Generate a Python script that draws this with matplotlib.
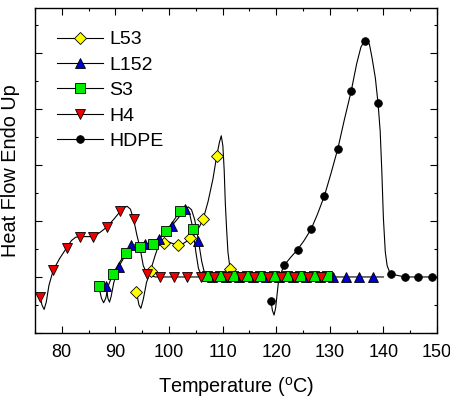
import matplotlib
matplotlib.use("Agg")
import matplotlib.pyplot as plt
from matplotlib.ticker import MultipleLocator, NullFormatter

plt.rcParams['font.family'] = ['Liberation Sans', 'DejaVu Sans']

# ---- L53 (yellow diamonds) ----
l53_x = [93.9, 94.4, 94.75, 95.2, 95.8, 96.55, 97.3, 98.0, 98.9, 99.8, 100.6, 101.5, 102.4,
         103.2, 104.0, 104.8, 105.7, 106.4, 107.3, 108.2, 108.9, 109.4, 109.75, 110.05, 110.3,
         110.5, 110.75, 111.0, 111.4, 112.2, 113.0, 130.0]
l53_y = [-0.26, -0.50, -0.56, -0.40, -0.10, 0.11, 0.35, 0.55, 0.61, 0.63, 0.60, 0.57, 0.58,
         0.63, 0.70, 0.78, 0.90, 1.04, 1.35, 1.75, 2.16, 2.40, 2.52, 2.34, 1.90,
         1.33, 0.85, 0.44, 0.14, 0.03, 0.0, 0.0]
l53_mx = [93.9, 96.55, 99.0, 101.6, 104.0, 106.4, 108.9, 111.4]
l53_my = [-0.26, 0.11, 0.61, 0.57, 0.70, 1.04, 2.16, 0.14]

# ---- L152 (blue triangles) ----
l152_x = [88.3, 88.6, 88.9, 89.2, 89.7, 90.6, 91.8, 92.9, 94.2, 95.6, 96.8, 98.05, 99.3,
          100.5, 101.8, 103.0, 103.6, 104.2, 104.8, 105.5, 106.1, 106.6, 107.2, 108.0, 140.0]
l152_y = [-0.17, -0.38, -0.45, -0.35, -0.10, 0.18, 0.38, 0.565, 0.58, 0.58, 0.62, 0.685, 0.79,
          0.91, 1.06, 1.21, 1.25, 1.20, 1.02, 0.64, 0.28, 0.08, 0.01, 0.0, 0.0]
l152_mx = [88.3, 90.6, 92.9, 95.6, 98.05, 100.5, 103.0, 105.5, 108.1, 110.6, 113.1, 115.6,
           118.1, 120.6, 123.1, 125.6, 128.1, 130.6, 133.0, 135.5, 138.0]
l152_my = [-0.17, 0.18, 0.565, 0.58, 0.685, 0.91, 1.21, 0.64, 0, 0, 0, 0,
           0, 0, 0, 0, 0, 0, 0, 0, 0]

# ---- S3 (green squares) ----
s3_x = [86.9, 87.4, 87.8, 88.2, 88.7, 89.5, 90.7, 91.95, 93.2, 94.5, 95.7, 97.0, 98.2, 99.5,
        100.7, 102.0, 102.7, 103.3, 103.8, 104.5, 105.0, 105.5, 106.0, 107.0, 130.0]
s3_y = [-0.17, -0.38, -0.46, -0.38, -0.15, 0.05, 0.25, 0.42, 0.52, 0.54, 0.55, 0.58, 0.68, 0.82,
        0.98, 1.17, 1.24, 1.25, 1.15, 0.85, 0.45, 0.15, 0.04, 0.02, 0.02]
s3_mx = [86.9, 89.46, 91.95, 94.5, 97.0, 99.5, 102.0, 104.5, 107.0, 109.5, 112.0, 114.5,
         117.0, 119.5, 122.0, 124.5, 127.0, 129.5]
s3_my = [-0.17, 0.05, 0.42, 0.54, 0.58, 0.82, 1.17, 0.85, 0.02, 0.02, 0.02, 0.02,
         0.02, 0.02, 0.02, 0.02, 0.02, 0.02]

# ---- H4 (red down triangles) ----
h4_x = [76.0, 76.3, 76.7, 77.1, 77.6, 78.4, 79.6, 80.9, 81.8, 82.6, 83.4, 85.0, 85.9, 87.2,
        88.4, 89.7, 90.9, 91.6, 92.2, 92.8, 93.4, 94.0, 94.6, 95.2, 95.9, 96.6, 97.5, 130.0]
h4_y = [-0.36, -0.50, -0.58, -0.45, -0.15, 0.12, 0.33, 0.52, 0.65, 0.71, 0.72, 0.72, 0.72, 0.80,
        0.89, 1.03, 1.17, 1.24, 1.26, 1.21, 1.03, 0.75, 0.52, 0.20, 0.06, 0.02, 0.0, 0.0]
h4_mx = [76.0, 78.4, 80.9, 83.4, 85.9, 88.4, 90.9, 93.4, 95.9, 98.4, 100.9, 103.4, 105.9,
         108.4, 110.9, 113.4, 115.9, 118.4, 120.9, 123.4, 125.9, 128.4]
h4_my = [-0.36, 0.12, 0.52, 0.72, 0.72, 0.89, 1.17, 1.03, 0.06, 0, 0, 0, 0,
         0, 0, 0, 0, 0, 0, 0, 0, 0]

# ---- HDPE (black circles) ----
hdpe_x = [119.0, 119.3, 119.6, 119.9, 120.4, 120.8, 121.5, 122.7, 124.0, 125.2, 126.5, 127.7,
          129.0, 130.2, 131.5, 132.7, 134.0, 135.0, 135.8, 136.5, 136.9, 137.4, 137.9, 138.5,
          139.0, 139.4, 139.7, 140.0, 140.35, 140.7, 141.2, 141.5, 144.0, 150.0]
hdpe_y = [-0.42, -0.60, -0.68, -0.55, -0.10, 0.05, 0.21, 0.35, 0.49, 0.65, 0.85, 1.12,
          1.45, 1.84, 2.29, 2.80, 3.32, 3.80, 4.10, 4.22, 4.24, 4.15, 3.90, 3.55,
          3.10, 2.60, 1.90, 1.05, 0.45, 0.20, 0.08, 0.05, 0.0, 0.0]
hdpe_mx = [119.0, 121.5, 124.0, 126.5, 129.0, 131.5, 134.0, 136.5, 139.0, 141.5, 144.0, 146.5, 149.0]
hdpe_my = [-0.42, 0.21, 0.49, 0.85, 1.45, 2.29, 3.32, 4.21, 3.10, 0.05, 0.0, 0.0, 0.0]

series = [
    ("L53", l53_x, l53_y, l53_mx, l53_my, "D", "#ffff00", 6.0),
    ("L152", l152_x, l152_y, l152_mx, l152_my, "^", "#0000cc", 6.5),
    ("S3", s3_x, s3_y, s3_mx, s3_my, "s", "#00ee00", 6.5),
    ("H4", h4_x, h4_y, h4_mx, h4_my, "v", "#ee0000", 6.5),
    ("HDPE", hdpe_x, hdpe_y, hdpe_mx, hdpe_my, "o", "#000000", 5.5),
]

fig = plt.figure(figsize=(4.5, 4.0), dpi=100)
ax = fig.add_axes([35 / 450, 1 - 333 / 400, 402 / 450, 325 / 400])

for name, lx, ly, mx, my, mk, col, ms in series:
    ax.plot(lx, ly, color="black", lw=0.8, zorder=2)
    ax.plot(mx, my, linestyle="none", marker=mk, markersize=ms,
            markerfacecolor=col, markeredgecolor="black", markeredgewidth=0.6, zorder=3)
    ax.plot([], [], color="black", lw=0.8, marker=mk, markersize=ms,
            markerfacecolor=col, markeredgecolor="black", markeredgewidth=0.6, label=name)

ax.set_xlim(75, 150)
ax.set_ylim(-1.0, 4.8)
ax.xaxis.set_major_locator(MultipleLocator(10))
ax.xaxis.set_minor_locator(MultipleLocator(5))
ax.yaxis.set_major_locator(MultipleLocator(1))
ax.yaxis.set_minor_locator(MultipleLocator(0.5))
ax.yaxis.set_major_formatter(NullFormatter())
ax.tick_params(which="both", direction="in", top=True, right=True, labelsize=13)
ax.tick_params(axis="x", which="major", pad=8)
ax.tick_params(which="major", length=5, width=0.8)
ax.tick_params(which="minor", length=2.5, width=0.8)
for s in ax.spines.values():
    s.set_linewidth(1.0)

ax.set_xlabel("Temperature ($^{\\mathregular{o}}$C)", fontsize=14.3, labelpad=10)
ax.set_ylabel("Heat Flow Endo Up", fontsize=14.3, labelpad=7.5)

leg = ax.legend(loc="upper left", bbox_to_anchor=(0.055, 0.93), frameon=False,
                fontsize=14, handlelength=2.36, handletextpad=0.34, labelspacing=0.4,
                borderpad=0, borderaxespad=0)

fig.savefig("out.png", dpi=100)
